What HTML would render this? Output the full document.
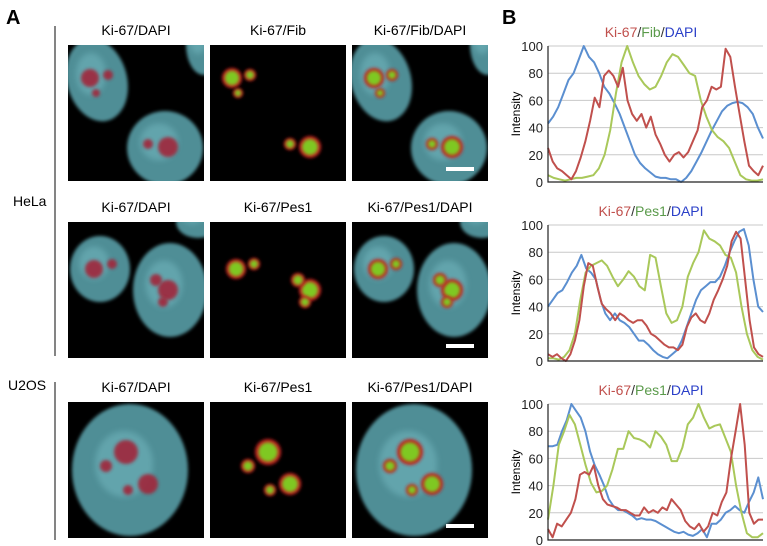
<!DOCTYPE html>
<html><head><meta charset="utf-8"><style>
body{margin:0;background:#fff;width:767px;height:546px;overflow:hidden;font-family:"Liberation Sans",sans-serif}
svg{position:absolute;left:0;top:0}
</style></head><body>
<svg id="fig" width="767" height="546" viewBox="0 0 767 546">
<defs>
<filter id="bl" x="-50%" y="-50%" width="200%" height="200%"><feGaussianBlur stdDeviation="3"/></filter>
<filter id="bl2" x="-50%" y="-50%" width="200%" height="200%"><feGaussianBlur stdDeviation="1.5"/></filter>
</defs>
<text x="6" y="24" font-size="20" font-weight="bold">A</text>
<text x="502" y="24" font-size="20" font-weight="bold">B</text>
<line x1="55" y1="26" x2="55" y2="356" stroke="#333" stroke-width="1.2"/>
<line x1="55" y1="382" x2="55" y2="540" stroke="#333" stroke-width="1.2"/>
<text x="13" y="206" font-size="14">HeLa</text>
<text x="8" y="390" font-size="14">U2OS</text>
<g id="panels"></g>
<g id="charts"></g>
</svg>
<script>
// ---- Chart data ----
const chartTitles=[["Ki-67","Fib","DAPI"],["Ki-67","Pes1","DAPI"],["Ki-67","Pes1","DAPI"]];
const yTicks=[0,20,40,60,80,100];
const c1Red=[25,15,10,8,5,2,8,18,30,45,62,55,78,82,78,70,84,60,50,45,50,40,48,35,28,20,15,20,22,18,22,30,38,55,60,70,68,70,98,92,70,50,30,12,8,5,12];
const c1Green=[5,3,2,1,2,3,3,4,5,10,20,38,65,88,100,88,78,72,68,70,78,88,94,92,86,80,78,60,48,38,33,30,25,15,5,2,1,1,2];
const c1Blue=[43,48,55,65,75,80,90,100,92,88,80,70,65,58,50,40,30,20,14,10,7,4,3,3,2,2,0,3,8,15,22,30,38,45,52,56,58,59,58,55,50,40,32];
const c2Red=[5,3,5,2,0,5,15,30,55,72,70,55,42,38,35,30,35,33,30,28,30,30,26,20,18,15,12,10,10,8,12,25,32,35,30,28,35,45,52,60,70,88,95,90,60,30,10,5,3];
const c2Green=[2,2,1,3,8,20,45,65,70,72,74,70,62,55,60,66,62,55,52,78,76,55,35,28,30,40,62,72,80,96,90,88,85,78,76,65,40,20,8,3,1];
const c2Blue=[40,45,50,52,58,65,70,78,68,65,60,45,35,30,35,30,28,25,20,15,15,12,8,5,3,2,5,8,15,25,35,45,52,55,58,58,62,70,80,88,95,97,85,60,40,36];
const c3Red=[8,2,12,10,15,20,30,48,50,48,55,40,30,26,25,24,22,22,20,18,18,24,20,22,20,24,22,30,26,22,14,10,8,12,6,10,20,18,28,35,60,80,100,70,20,12,15,15];
const c3Green=[15,40,70,80,92,85,70,55,42,35,36,40,52,67,67,80,75,74,72,68,80,76,70,58,58,68,85,90,100,90,82,84,85,75,65,40,20,5,2,2,5];
const c3Blue=[69,69,70,80,88,100,95,90,80,65,55,48,40,30,25,22,22,20,18,15,16,15,15,14,12,10,8,6,5,6,4,3,5,8,2,12,12,15,20,22,25,22,20,28,35,46,30];

const NS="http://www.w3.org/2000/svg";
function mk(tag,attrs,parent){const e=document.createElementNS(NS,tag);for(const k in attrs)e.setAttribute(k,attrs[k]);parent.appendChild(e);return e;}

const charts=[
 {top:46,bottom:182,series:[c1Blue,c1Green,c1Red],titleY:37},
 {top:225,bottom:361,series:[c2Blue,c2Green,c2Red],titleY:216},
 {top:404,bottom:540,series:[c3Blue,c3Green,c3Red],titleY:395}];
const colors=["#5b8fd0","#a9c85a","#c0504d"];
const titleColors=["#c0504d","#5a9a4a","#2a3fc8"];
const L=548,R=763;
const cg=document.getElementById('charts');
charts.forEach((c,ci)=>{
 const g=mk('g',{},cg);
 
 
 const ys=v=>c.bottom-(v/100)*(c.bottom-c.top);
 yTicks.forEach(t=>{
  if(t>0){const gl=mk('line',{x1:L,x2:R,y1:ys(t),y2:ys(t),stroke:'#c8c8c8','stroke-width':1},g);
  }
  const tl=mk('text',{x:L-5,y:ys(t)+5,'font-size':13,'text-anchor':'end',fill:'#222'},g);
  
  tl.textContent=t;
 });
 c.series.forEach((s,si)=>{
  const pts=s.map((v,i)=>(L+i*(R-L)/(s.length-1)).toFixed(1)+','+ys(v).toFixed(1)).join(' ');
  const pl=mk('polyline',{points:pts,fill:'none',stroke:colors[si],'stroke-width':2,'stroke-linejoin':'round'},g);
  
  
 });
 const ax=mk('path',{d:`M${L},${c.top} V${c.bottom} H${R}`,fill:'none',stroke:'#222','stroke-width':1.2},g);
 
 const yt=mk('text',{x:0,y:0,'font-size':12,'text-anchor':'middle',transform:`translate(${L-28},${(c.top+c.bottom)/2}) rotate(-90)`},g);
 
 yt.textContent='Intensity';
 const tt=mk('text',{x:651,y:c.titleY,'font-size':14,'text-anchor':'middle'},g);
 
 const parts=chartTitles[ci];
 parts.forEach((p,pi)=>{
  const sp=mk('tspan',{fill:titleColors[pi]},tt);sp.textContent=p;
  if(pi<2){const sl=mk('tspan',{fill:'#333'},tt);sl.textContent='/';}
 });
});

// ---- microscopy panels ----
const pg=document.getElementById('panels');
const cols=[68,210,352];
const rows=[45,222,402];
const W=136;
const labels=[["Ki-67/DAPI","Ki-67/Fib","Ki-67/Fib/DAPI"],["Ki-67/DAPI","Ki-67/Pes1","Ki-67/Pes1/DAPI"],["Ki-67/DAPI","Ki-67/Pes1","Ki-67/Pes1/DAPI"]];
// cells: [cx,cy,rx,ry,rot] relative; nucleoli: [x,y,r]
const cells=[
 {nuc:[[29,35,30,42,-15],[97,103,38,37,0],[136,0,18,30,0]],nol:[[22,33,9],[40,30,5],[28,48,4],[100,102,10],[80,99,5]]},
 {nuc:[[32,47,30,33,0],[102,68,37,47,0],[130,0,22,16,0]],nol:[[26,47,9],[44,42,5],[100,68,10],[88,58,6],[95,80,5]]},
 {nuc:[[62,68,58,66,0]],nol:[[58,50,12],[80,82,10],[38,64,6],[60,88,5]]}];
rows.forEach((ry,ri)=>{
 cols.forEach((cx,ci)=>{
  const g=mk('g',{},pg);
  
  
  const lab=mk('text',{x:cx+W/2,y:ry-10,'font-size':14,'text-anchor':'middle'},g);
  
  lab.textContent=labels[ri][ci];
  const cp='cp'+ri+ci;
  const cpd=mk('clipPath',{id:cp},g);mk('rect',{x:cx,y:ry,width:W,height:W},cpd);
  mk('rect',{x:cx,y:ry,width:W,height:W,fill:'#000'},g);
  const inner=mk('g',{'clip-path':`url(#${cp})`},g);
  const cd=cells[ri];
  if(ci!==1){cd.nuc.forEach(n=>{
   mk('ellipse',{cx:cx+n[0],cy:ry+n[1],rx:n[2],ry:n[3],fill:'#4f8e96',transform:`rotate(${n[4]} ${cx+n[0]} ${ry+n[1]})`,filter:'url(#bl2)'},inner);
   mk('ellipse',{cx:cx+n[0]-6,cy:ry+n[1]-6,rx:n[2]*0.5,ry:n[3]*0.5,fill:'#6fb3bb',opacity:0.6,filter:'url(#bl)'},inner);
  });}
  cd.nol.forEach(o=>{
   const isG=ci>0&&ri>0||ci>0&&ri===0;
   if(ri===0&&ci===0||ri>0&&ci===0){
    mk('circle',{cx:cx+o[0],cy:ry+o[1],r:o[2],fill:'#a0283a',opacity:0.9,filter:'url(#bl2)'},inner);
   } else {
    mk('circle',{cx:cx+o[0],cy:ry+o[1],r:o[2]+1,fill:'#c02020',filter:'url(#bl2)'},inner);
    mk('circle',{cx:cx+o[0],cy:ry+o[1],r:o[2]*0.8,fill:'#7fc820',filter:'url(#bl2)'},inner);
   }
  });
  if(ci===2){
   const sb=mk('line',{x1:cx+94,x2:cx+122,y1:ry+W-12,y2:ry+W-12,stroke:'#fff','stroke-width':4},g);
   
  }
 });
});
</script>
</body></html>
